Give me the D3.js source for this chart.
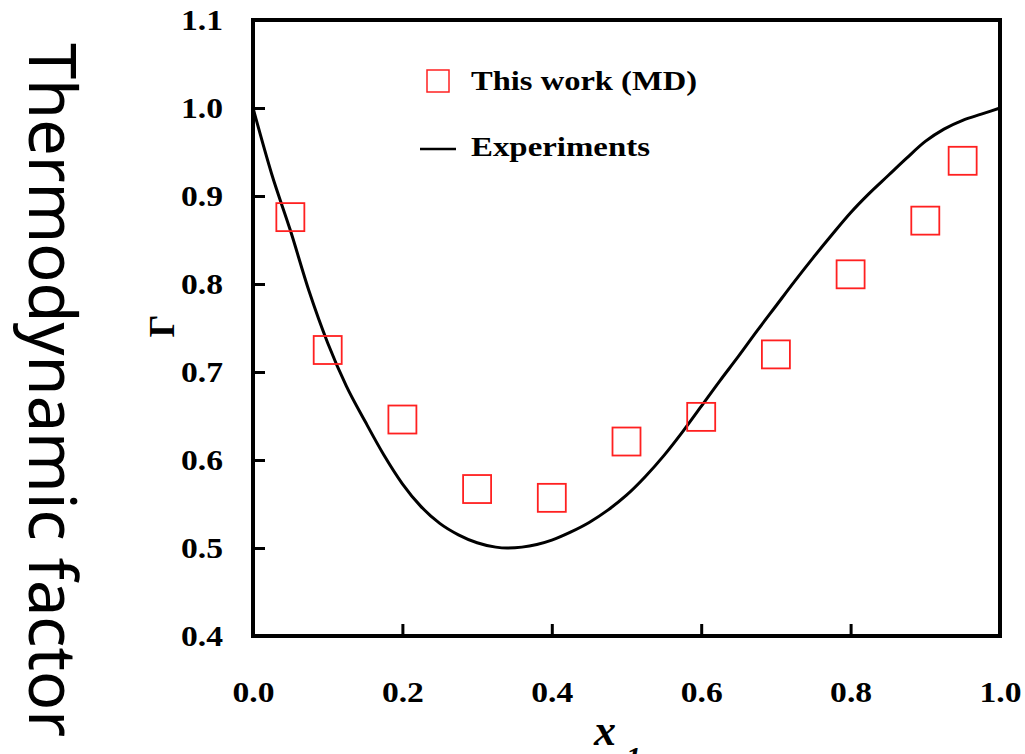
<!DOCTYPE html>
<html>
<head>
<meta charset="utf-8">
<script src="https://cdn.jsdelivr.net/npm/d3@7/dist/d3.min.js"></script>
<style>
  html, body { margin: 0; padding: 0; background: #fff; }
  svg { display: block; }
</style>
</head>
<body>
<script>
// ---- data ----
const mdX = [0.05, 0.1, 0.2, 0.3, 0.4, 0.5, 0.6, 0.7, 0.8, 0.9, 0.95];
const mdY = [0.876, 0.725, 0.646, 0.567, 0.557, 0.621, 0.649, 0.720, 0.811, 0.872, 0.940];

const expX = [0.00, 0.025, 0.05, 0.075, 0.10, 0.125, 0.15, 0.175, 0.20, 0.225, 0.25, 0.275, 0.30, 0.325, 0.34, 0.36, 0.38, 0.40, 0.425, 0.45, 0.475, 0.50, 0.525, 0.55, 0.575, 0.60, 0.625, 0.65, 0.675, 0.70, 0.725, 0.75, 0.775, 0.80, 0.825, 0.85, 0.875, 0.90, 0.925, 0.95, 0.975, 1.00];
const expY = [1.000, 0.925, 0.861, 0.792, 0.733, 0.684, 0.644, 0.606, 0.573, 0.547, 0.528, 0.515, 0.506, 0.501, 0.500, 0.501, 0.504, 0.509, 0.518, 0.529, 0.543, 0.560, 0.581, 0.605, 0.632, 0.661, 0.690, 0.718, 0.747, 0.775, 0.803, 0.830, 0.856, 0.881, 0.903, 0.923, 0.943, 0.962, 0.976, 0.986, 0.993, 1.000];

const xTicks = [0.0, 0.2, 0.4, 0.6, 0.8, 1.0];
const yTicks = [0.4, 0.5, 0.6, 0.7, 0.8, 0.9, 1.0, 1.1];
const legendLabels = ["This work (MD)", "Experiments"];
const yTitleOuter = "Thermodynamic factor";
const yTitleInner = "Γ";

// ---- layout ----
const W = 1025, H = 754;
const L = 253, R = 1000, T = 20, B = 636;
const serif = "'Liberation Serif', 'Times New Roman', serif";

const svg = d3.select("body").append("svg").attr("width", W).attr("height", H);

const x = d3.scaleLinear().domain([0, 1]).range([L, R]);
const y = d3.scaleLinear().domain([0.4, 1.1]).range([B, T]);

// axes (ticks inward)
const xAxis = d3.axisBottom(x).tickValues(xTicks).tickFormat(d3.format(".1f")).tickSizeInner(-12).tickSizeOuter(0).tickPadding(63);
const yAxis = d3.axisLeft(y).tickValues(yTicks).tickFormat(d3.format(".1f")).tickSizeInner(-12).tickSizeOuter(0).tickPadding(30);

const gx = svg.append("g").attr("transform", `translate(0,${B})`).call(xAxis);
const gy = svg.append("g").attr("transform", `translate(${L},0)`).call(yAxis);
[gx, gy].forEach(g => {
  g.select(".domain").remove();
  g.selectAll(".tick line").attr("stroke", "#000").attr("stroke-width", 3);
  g.selectAll(".tick text").attr("fill", "#000")
    .attr("textLength", 42).attr("lengthAdjust", "spacingAndGlyphs")
    .style("font-family", serif).style("font-weight", "bold").style("font-size", "30px");
});
// hide tick marks at frame ends
gx.selectAll(".tick").filter(d => d === 0 || d === 1).select("line").remove();
gy.selectAll(".tick").filter(d => Math.abs(d - 0.4) < 1e-9 || Math.abs(d - 1.1) < 1e-9).select("line").remove();
gx.selectAll(".tick text").attr("dy", "0.1em");

// frame
svg.append("rect").attr("x", L).attr("y", T).attr("width", R - L).attr("height", B - T)
  .attr("fill", "none").attr("stroke", "#000").attr("stroke-width", 4);

// experimental curve
const expData = expX.map((v, i) => [v, expY[i]]);
svg.append("path").datum(expData)
  .attr("fill", "none").attr("stroke", "#000").attr("stroke-width", 3)
  .attr("d", d3.line().x(d => x(d[0])).y(d => y(d[1])).curve(d3.curveMonotoneX));

// MD markers
const S = 28;
svg.append("g").selectAll("rect").data(mdX.map((v, i) => [v, mdY[i]])).join("rect")
  .attr("x", d => x(d[0]) - S / 2).attr("y", d => y(d[1]) - S / 2)
  .attr("width", S).attr("height", S)
  .attr("fill", "none").attr("stroke", "#ff2020").attr("stroke-width", 1.8);

// legend
const lg = svg.append("g");
lg.append("rect").attr("x", 427).attr("y", 70).attr("width", 22).attr("height", 22)
  .attr("fill", "none").attr("stroke", "#ff2020").attr("stroke-width", 1.5);
lg.append("line").attr("x1", 420).attr("x2", 456).attr("y1", 149).attr("y2", 149)
  .attr("stroke", "#000").attr("stroke-width", 2.5);
lg.append("text").attr("x", 471).attr("y", 90).text(legendLabels[0])
  .attr("textLength", 226).attr("lengthAdjust", "spacingAndGlyphs")
  .style("font-family", serif).style("font-weight", "bold").style("font-size", "28px");
lg.append("text").attr("x", 471).attr("y", 156).text(legendLabels[1])
  .attr("textLength", 179).attr("lengthAdjust", "spacingAndGlyphs")
  .style("font-family", serif).style("font-weight", "bold").style("font-size", "28px");

// inner y title (Gamma)
svg.append("text").attr("transform", "translate(174,326) rotate(-90)")
  .attr("text-anchor", "middle").text(yTitleInner)
  .style("font-family", serif).style("font-weight", "bold").style("font-size", "36px");

// x title
const xt = svg.append("text").attr("x", 594).attr("y", 745)
  .style("font-family", serif).style("font-weight", "bold").style("font-style", "italic");
xt.append("tspan").text("x").style("font-size", "44px");
xt.append("tspan").attr("dx", 10).attr("dy", 22).text("1").style("font-size", "30px");

// outer y title
svg.append("text").attr("transform", "translate(29,43) rotate(90)")
  .attr("text-anchor", "start").text(yTitleOuter)
  .attr("textLength", 694).attr("lengthAdjust", "spacingAndGlyphs")
  .style("font-family", "'Noto Sans', 'Open Sans', sans-serif").style("font-size", "65px").attr("fill", "#000");
</script>
</body>
</html>
